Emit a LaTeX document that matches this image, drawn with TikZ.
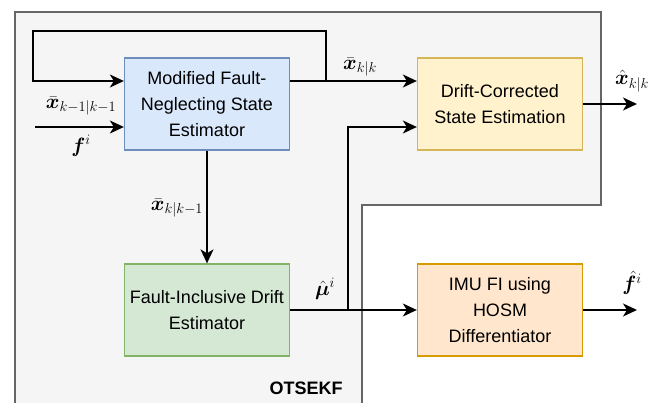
\documentclass[tikz,border=0pt]{standalone}
\usepackage{amsmath,bm}
\usepackage{fontspec}
\setmainfont{Liberation Sans}
\usepackage{tikz}
\usetikzlibrary{arrows.meta}

\definecolor{regfill}{HTML}{F5F5F5}
\definecolor{regline}{HTML}{666666}
\definecolor{bluefill}{HTML}{DAE8FC}
\definecolor{blueline}{HTML}{6C8EBF}
\definecolor{greenfill}{HTML}{D5E8D4}
\definecolor{greenline}{HTML}{82B366}
\definecolor{yellowfill}{HTML}{FFF2CC}
\definecolor{yellowline}{HTML}{D6B656}
\definecolor{orangefill}{HTML}{FFE6CC}
\definecolor{orangeline}{HTML}{D79B00}

\begin{document}
\begin{tikzpicture}[x=1pt, y=-1pt, >={Stealth[length=14pt,width=13pt,inset=4pt]},
    blk/.style={draw, line width=1.3pt, minimum width=165pt, minimum height=92pt,
        align=center, inner sep=2pt, font=\fontsize{18}{26}\selectfont},
    wire/.style={line width=1.7pt},
    lbl/.style={inner sep=0pt, font=\fontsize{22}{26}\selectfont}]
        \fill [white] (0,0) rectangle (665,403);
        \useasboundingbox (0,0) rectangle (665,403);

        % OTSEKF region
        \begin{scope}
            \clip (0,0) rectangle (665,403);
            \draw [fill = regfill, draw = regline, line width=1.5pt] (15,12) -- (601,12) -- (601,205)
                -- (362,205) -- (362,420) -- (15,420) -- cycle;
        \end{scope}
        \node [font=\bfseries\fontsize{18}{22}\selectfont, inner sep=0pt] (otsekf) at (306,388) {OTSEKF};

        % blocks
        \node [blk, fill = bluefill, draw = blueline] (mfn) at (207,104) {Modified Fault-\\Neglecting State\\Estimator};
        \node [blk, fill = greenfill, draw = greenline] (fid) at (207,310) {Fault-Inclusive Drift\\Estimator};
        \node [blk, fill = yellowfill, draw = yellowline] (dcs) at (500,104) {Drift-Corrected\\State Estimation};
        \node [blk, fill = orangefill, draw = orangeline] (imu) at (500,310) {IMU FI using\\HOSM\\Differentiator};

        % junctions and free ends
        \coordinate (fb) at (326,81);
        \coordinate (mj) at (348,310);
        \coordinate (fin) at (35,127);
        \coordinate (xout) at (637,104);
        \coordinate (fout) at (637,310);

        \draw [wire, ->] ([yshift=23pt]mfn.east) -- ([yshift=23pt]dcs.west);
        \draw [wire, ->] (fb) -- (326,31) -- (33,31) -- (33,81) -- ([yshift=23pt]mfn.west);
        \draw [wire, ->] (fin) -- ([yshift=-23pt]mfn.west);
        \draw [wire, ->] (mfn.south) -- (fid.north);
        \draw [wire, ->] (fid) -- (imu);
        \draw [wire, ->] (mj) |- ([yshift=-23pt]dcs.west);
        \draw [wire, ->] (dcs) -- (xout);
        \draw [wire, ->] (imu) -- (fout);

        % signal labels
        \node [lbl] (xprev) at (81,106) {$\bm{\bar{x}}_{k-1|k-1}$};
        \node [lbl] (fi) at (81,146) {$\bm{f}^{i}$};
        \node [lbl] (xkk) at (360,67) {$\bm{\bar{x}}_{k|k}$};
        \node [lbl] (xpred) at (177,208) {$\bm{\bar{x}}_{k|k-1}$};
        \node [lbl] (mu) at (325,289) {$\bm{\hat{\mu}}^{i}$};
        \node [lbl] (xhat) at (632,81) {$\bm{\hat{x}}_{k|k}$};
        \node [lbl] (fhat) at (632,283) {$\bm{\hat{f}}^{i}$};
\end{tikzpicture}
\end{document}
